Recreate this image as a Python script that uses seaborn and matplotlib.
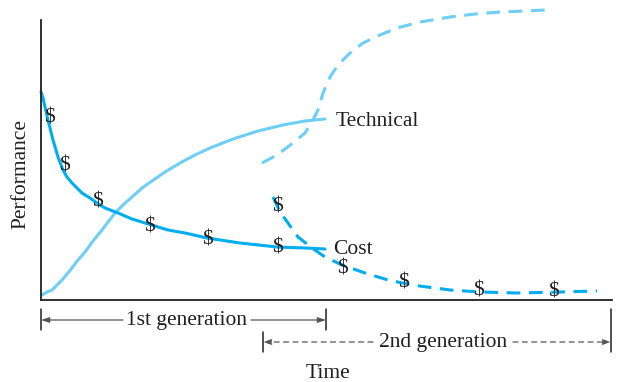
import matplotlib
matplotlib.use("Agg")
import matplotlib.pyplot as plt
import seaborn as sns
import pandas as pd

# Data (time units, performance units)
tech1_x = [1, 6, 11, 16, 21, 26, 31, 37, 44, 52, 61, 67, 74, 82, 91, 101, 111, 124, 139, 154, 169, 192, 217, 242, 264, 284]
tech1_y = [5, 8, 10, 15, 20, 26, 32, 40, 48, 59, 70, 78, 87, 95, 103, 112, 119, 128, 137, 145, 152, 161, 169, 175, 179, 181]

cost1_x = [0, 2, 4, 7, 9, 12, 17, 22, 26, 31, 41, 49, 56, 64, 77, 91, 104, 127, 144, 166, 199, 236, 264, 284]
cost1_y = [208, 202, 193, 180, 172, 160, 143, 130, 123, 117, 107, 102, 97, 92, 87, 81, 77, 70, 67, 62, 57, 53, 52, 51]

tech2_x = [221, 236, 252, 264, 272, 277, 282, 289, 297, 309, 322, 339, 356, 379, 409, 434, 459, 484, 504]
tech2_y = [137, 145, 157, 167, 180, 190, 207, 223, 235, 247, 257, 265, 272, 278, 283, 286, 288, 289, 290]

cost2_x = [232, 239, 247, 257, 271, 284, 301, 324, 347, 371, 409, 439, 476, 519, 556]
cost2_y = [103, 88, 77, 63, 52, 43, 35, 27, 20, 15, 10, 8, 7, 8, 9]

dollar1_x = [8, 23, 56, 108, 166, 236]
dollar1_y = [182, 134, 98, 73, 60, 52]
dollar2_x = [236, 301, 362, 437, 512]
dollar2_y = [93, 31, 17, 9, 8]

gen1_span = [0, 285]
gen2_span = [222, 570]

sns.set_theme(style="white")
plt.rcParams['font.family'] = ['Liberation Serif', 'DejaVu Serif']

TECH_C = "#6dcff6"
COST_C = "#00aeef"
INK = "#231f20"
GREY = "#555555"
FS = 15.5

fig = plt.figure(figsize=(6.17, 3.82), dpi=100)
ax = fig.add_axes([41/617, 82/382, 571/617, 280/382])

def line(x, y, color, dashed):
    df = pd.DataFrame({"x": x, "y": y})
    n0 = len(ax.lines)
    sns.lineplot(data=df, x="x", y="y", ax=ax, color=color, lw=2.2,
                 linestyle=(0, (4.5, 2.8)) if dashed else "-", sort=False)
    for ln in ax.lines[n0:]:
        ln.set_clip_on(False)
        ln.set_solid_joinstyle("round")
        ln.set_dash_joinstyle("round")

line(tech1_x, tech1_y, TECH_C, False)
line(cost1_x, cost1_y, COST_C, False)
line(tech2_x, tech2_y, TECH_C, True)
line(cost2_x, cost2_y, COST_C, True)

for xs, ys in [(dollar1_x, dollar1_y), (dollar2_x, dollar2_y)]:
    for x, y in zip(xs, ys):
        ax.text(x, y, r"\$", fontsize=FS, color=INK, ha="center", va="center")

ax.text(295, 178, "Technical", fontsize=FS, color=INK, ha="left", va="center")
ax.text(292, 50, "Cost", fontsize=FS, color=INK, ha="left", va="center")

ax.set_xlim(0, 571)
ax.set_ylim(0, 280)
ax.set_xticks([])
ax.set_yticks([])
ax.set_xlabel("")
ax.set_ylabel("")
for s in ["top", "right"]:
    ax.spines[s].set_visible(False)
for s in ["left", "bottom"]:
    ax.spines[s].set_color(INK)
    ax.spines[s].set_linewidth(1.3)

ax.text(-20, 126, "Performance", fontsize=FS, color=INK, rotation=90,
        ha="center", va="center", clip_on=False)
ax.text(287, -73, "Time", fontsize=FS, color=INK, ha="center", va="center", clip_on=False)

# Generation brackets
def bracket(x0, x1, y, label, dashed, tick_top0, tick_top1, tick_bot0, tick_bot1, textx, halfgap):
    ls = (0, (4, 3.5)) if dashed else "-"
    ax.plot([x0, x0], [tick_top0, tick_bot0], color=INK, lw=1.1, clip_on=False)
    ax.plot([x1, x1], [tick_top1, tick_bot1], color=INK, lw=1.1, clip_on=False)
    for xa, xb in [(x0, textx - halfgap), (x1, textx + halfgap)]:
        ax.annotate("", xy=(xa, y), xytext=(xb, y), annotation_clip=False,
                    arrowprops=dict(arrowstyle="-|>,head_length=0.6,head_width=0.2",
                                    color=GREY, lw=0.9, linestyle=ls,
                                    mutation_scale=8, shrinkA=0, shrinkB=0))
    ax.text(textx, y, label, fontsize=FS, color=INK, ha="center", va="center", clip_on=False)

bracket(gen1_span[0], gen1_span[1], -20, "1st generation", False, -9, -9, -30, -30, 146, 64)
bracket(gen2_span[0], gen2_span[1], -42, "2nd generation", True, -32, -9, -52, -52, 402, 70)

fig.savefig("out.png", dpi=100)
